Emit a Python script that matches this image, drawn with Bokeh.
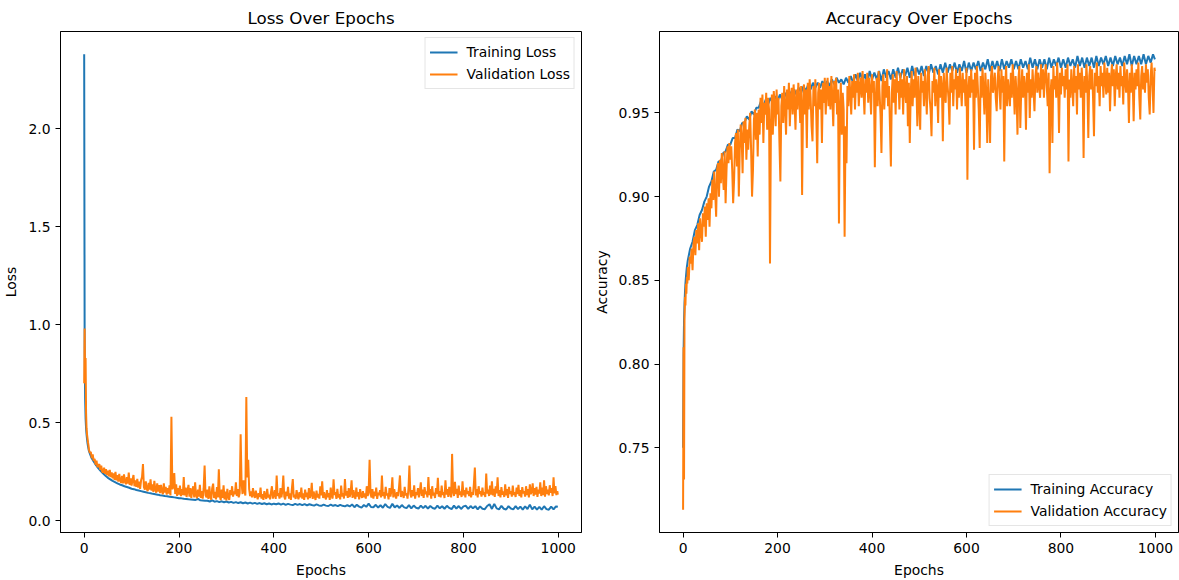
from bokeh.plotting import figure
from bokeh.models import Range1d, FixedTicker, NumeralTickFormatter, Legend, LegendItem
from bokeh.layouts import row
from bokeh.embed import file_html
from bokeh.resources import INLINE

# ---- data ----
# training curves sampled every 5 epochs, validation curves every 2 epochs
train_epochs = list(range(0, 10)) + list(range(10, 1000, 5)) + [999]
val_epochs = list(range(0, 10)) + list(range(10, 1000, 2)) + [999]

train_loss = [
    2.38, 0.88, 0.62, 0.52, 0.47, 0.44, 0.415, 0.395, 0.38, 0.367,
    0.355, 0.322, 0.301, 0.282, 0.266, 0.252, 0.240, 0.229, 0.218, 0.210,
    0.202, 0.196, 0.190, 0.184, 0.180, 0.175, 0.171, 0.167, 0.162, 0.160,
    0.156, 0.153, 0.150, 0.147, 0.144, 0.141, 0.139, 0.136, 0.134, 0.132,
    0.129, 0.128, 0.125, 0.124, 0.121, 0.120, 0.118, 0.116, 0.114, 0.113,
    0.111, 0.110, 0.108, 0.107, 0.106, 0.105, 0.110, 0.103, 0.102, 0.101,
    0.101, 0.097, 0.103, 0.096, 0.099, 0.094, 0.098, 0.093, 0.097, 0.092,
    0.095, 0.090, 0.094, 0.089, 0.093, 0.088, 0.092, 0.087, 0.091, 0.086,
    0.090, 0.085, 0.089, 0.084, 0.088, 0.083, 0.087, 0.082, 0.086, 0.083,
    0.087, 0.081, 0.086, 0.080, 0.085, 0.081, 0.079, 0.085, 0.080, 0.084,
    0.078, 0.084, 0.077, 0.083, 0.079, 0.076, 0.082, 0.077, 0.075, 0.081,
    0.076, 0.074, 0.081, 0.075, 0.079, 0.073, 0.080, 0.075, 0.072, 0.079,
    0.072, 0.082, 0.068, 0.080, 0.071, 0.066, 0.079, 0.070, 0.086, 0.069,
    0.068, 0.080, 0.066, 0.078, 0.065, 0.084, 0.070, 0.064, 0.085, 0.067,
    0.077, 0.064, 0.079, 0.067, 0.063, 0.078, 0.062, 0.076, 0.065, 0.061,
    0.076, 0.063, 0.075, 0.061, 0.074, 0.064, 0.060, 0.076, 0.062, 0.073,
    0.060, 0.075, 0.064, 0.058, 0.076, 0.061, 0.074, 0.059, 0.072, 0.075,
    0.059, 0.074, 0.062, 0.073, 0.057, 0.072, 0.060, 0.058, 0.074, 0.083,
    0.059, 0.085, 0.062, 0.057, 0.075, 0.060, 0.056, 0.073, 0.061, 0.057,
    0.073, 0.058, 0.071, 0.056, 0.072, 0.059, 0.081, 0.057, 0.071, 0.056,
    0.070, 0.055, 0.073, 0.058, 0.055, 0.071, 0.057, 0.072, 0.070,
]

train_acc = [
    0.750, 0.805, 0.826, 0.836, 0.843, 0.848, 0.852, 0.855, 0.858, 0.860,
    0.862, 0.869, 0.873, 0.880, 0.883, 0.889, 0.892, 0.897, 0.900, 0.906,
    0.909, 0.915, 0.916, 0.921, 0.921, 0.926, 0.927, 0.931, 0.931, 0.935,
    0.935, 0.940, 0.939, 0.944, 0.944, 0.948, 0.946, 0.951, 0.949, 0.953,
    0.953, 0.957, 0.954, 0.958, 0.955, 0.959, 0.956, 0.960, 0.957, 0.961,
    0.958, 0.962, 0.959, 0.963, 0.960, 0.964, 0.961, 0.965, 0.962, 0.966,
    0.963, 0.967, 0.964, 0.968, 0.965, 0.968, 0.965, 0.969, 0.966, 0.969,
    0.966, 0.970, 0.967, 0.971, 0.968, 0.970, 0.967, 0.971, 0.968, 0.972,
    0.968, 0.973, 0.969, 0.974, 0.969, 0.973, 0.968, 0.975, 0.970, 0.974,
    0.970, 0.975, 0.969, 0.976, 0.971, 0.975, 0.970, 0.976, 0.971, 0.977,
    0.971, 0.976, 0.972, 0.977, 0.971, 0.978, 0.972, 0.977, 0.973, 0.978,
    0.972, 0.978, 0.973, 0.979, 0.974, 0.978, 0.973, 0.979, 0.974, 0.980,
    0.974, 0.979, 0.975, 0.980, 0.974, 0.979, 0.975, 0.981, 0.974, 0.980,
    0.975, 0.980, 0.976, 0.981, 0.975, 0.980, 0.976, 0.982, 0.975, 0.981,
    0.976, 0.981, 0.975, 0.982, 0.976, 0.981, 0.977, 0.982, 0.976, 0.981,
    0.976, 0.982, 0.977, 0.981, 0.976, 0.983, 0.977, 0.982, 0.976, 0.982,
    0.977, 0.982, 0.976, 0.983, 0.977, 0.982, 0.978, 0.983, 0.977, 0.982,
    0.977, 0.983, 0.978, 0.982, 0.977, 0.984, 0.978, 0.983, 0.977, 0.983,
    0.978, 0.983, 0.977, 0.984, 0.978, 0.983, 0.979, 0.984, 0.978, 0.983,
    0.978, 0.984, 0.979, 0.983, 0.978, 0.984, 0.979, 0.985, 0.978, 0.984,
    0.979, 0.984, 0.979, 0.985, 0.979, 0.984, 0.980, 0.985, 0.982,
]

val_loss = [
    0.70, 0.98, 0.72, 0.83, 0.55, 0.47, 0.44, 0.42, 0.40, 0.385,
    0.362, 0.345, 0.350, 0.318, 0.338, 0.305, 0.315, 0.285, 0.305, 0.272, 0.282, 0.288, 0.258,
    0.280, 0.250, 0.245, 0.270, 0.238, 0.262, 0.232, 0.255, 0.225, 0.258, 0.222, 0.245,
    0.215, 0.240, 0.208, 0.248, 0.205, 0.232, 0.198, 0.238, 0.205, 0.192, 0.228, 0.190, 0.236,
    0.198, 0.185, 0.222, 0.188, 0.245, 0.182, 0.215, 0.178, 0.208, 0.232, 0.175, 0.205,
    0.172, 0.212, 0.168, 0.198, 0.162, 0.205, 0.222, 0.288, 0.170, 0.158, 0.200, 0.162, 0.150,
    0.192, 0.158, 0.210, 0.152, 0.185, 0.146, 0.202, 0.158, 0.142, 0.190, 0.148, 0.180,
    0.140, 0.182, 0.148, 0.135, 0.190, 0.142, 0.172, 0.132, 0.165, 0.138, 0.180, 0.128, 0.530,
    0.160, 0.170, 0.242, 0.135, 0.185, 0.126, 0.165, 0.132, 0.178, 0.124, 0.160, 0.130,
    0.222, 0.128, 0.168, 0.120, 0.155, 0.182, 0.122, 0.165, 0.116, 0.152, 0.175, 0.118, 0.195,
    0.128, 0.114, 0.158, 0.122, 0.182, 0.115, 0.150, 0.112, 0.165, 0.280, 0.128, 0.118,
    0.158, 0.110, 0.175, 0.122, 0.106, 0.165, 0.188, 0.115, 0.146, 0.108, 0.170, 0.118, 0.262,
    0.125, 0.104, 0.158, 0.115, 0.180, 0.108, 0.148, 0.102, 0.162, 0.120, 0.105, 0.155,
    0.130, 0.175, 0.122, 0.148, 0.135, 0.195, 0.125, 0.160, 0.118, 0.140, 0.440, 0.190, 0.135,
    0.205, 0.150, 0.128, 0.630, 0.220, 0.310, 0.160, 0.125, 0.148, 0.118, 0.165, 0.130,
    0.115, 0.152, 0.128, 0.108, 0.140, 0.120, 0.168, 0.112, 0.135, 0.105, 0.150, 0.125, 0.110,
    0.162, 0.118, 0.132, 0.108, 0.145, 0.175, 0.112, 0.128, 0.155, 0.110, 0.230, 0.125,
    0.140, 0.112, 0.165, 0.118, 0.150, 0.230, 0.122, 0.108, 0.148, 0.125, 0.172, 0.112, 0.138,
    0.105, 0.160, 0.212, 0.118, 0.132, 0.110, 0.155, 0.125, 0.108, 0.145, 0.118, 0.168,
    0.112, 0.138, 0.105, 0.158, 0.120, 0.142, 0.108, 0.165, 0.115, 0.130, 0.192, 0.110, 0.148,
    0.125, 0.105, 0.152, 0.118, 0.135, 0.112, 0.175, 0.128, 0.200, 0.115, 0.145, 0.122,
    0.108, 0.155, 0.118, 0.140, 0.105, 0.168, 0.125, 0.112, 0.210, 0.130, 0.145, 0.110, 0.162,
    0.118, 0.135, 0.108, 0.178, 0.122, 0.140, 0.112, 0.212, 0.128, 0.150, 0.115, 0.165,
    0.120, 0.142, 0.205, 0.115, 0.155, 0.128, 0.110, 0.168, 0.122, 0.145, 0.108, 0.160, 0.130,
    0.115, 0.150, 0.118, 0.138, 0.112, 0.175, 0.125, 0.148, 0.310, 0.135, 0.118, 0.160,
    0.112, 0.148, 0.125, 0.168, 0.110, 0.142, 0.130, 0.155, 0.118, 0.230, 0.125, 0.145, 0.112,
    0.172, 0.128, 0.138, 0.108, 0.165, 0.122, 0.150, 0.220, 0.118, 0.160, 0.130, 0.112,
    0.145, 0.125, 0.168, 0.230, 0.120, 0.150, 0.132, 0.115, 0.172, 0.128, 0.140, 0.112, 0.162,
    0.280, 0.135, 0.118, 0.155, 0.125, 0.180, 0.112, 0.145, 0.130, 0.165, 0.118, 0.150,
    0.195, 0.125, 0.158, 0.115, 0.170, 0.135, 0.148, 0.118, 0.222, 0.130, 0.160, 0.112, 0.175,
    0.128, 0.142, 0.115, 0.165, 0.135, 0.218, 0.122, 0.150, 0.118, 0.178, 0.130, 0.145,
    0.115, 0.205, 0.132, 0.160, 0.120, 0.172, 0.138, 0.118, 0.340, 0.145, 0.125, 0.198, 0.135,
    0.162, 0.115, 0.178, 0.130, 0.148, 0.120, 0.200, 0.128, 0.155, 0.118, 0.168, 0.135,
    0.150, 0.125, 0.172, 0.118, 0.145, 0.130, 0.188, 0.270, 0.128, 0.160, 0.118, 0.175, 0.135,
    0.150, 0.122, 0.168, 0.130, 0.145, 0.120, 0.240, 0.138, 0.158, 0.125, 0.178, 0.132,
    0.200, 0.128, 0.162, 0.120, 0.175, 0.138, 0.220, 0.125, 0.155, 0.118, 0.170, 0.132, 0.148,
    0.120, 0.185, 0.128, 0.160, 0.115, 0.172, 0.135, 0.150, 0.122, 0.178, 0.130, 0.145,
    0.120, 0.168, 0.135, 0.182, 0.125, 0.155, 0.118, 0.170, 0.138, 0.150, 0.122, 0.175, 0.130,
    0.160, 0.118, 0.185, 0.135, 0.148, 0.190, 0.125, 0.165, 0.132, 0.172, 0.120, 0.158,
    0.138, 0.195, 0.125, 0.168, 0.130, 0.205, 0.122, 0.175, 0.135, 0.158,
    0.128, 0.180, 0.142, 0.165, 0.125, 0.220, 0.138, 0.175, 0.130, 0.150,
    0.132,
]

val_acc = [
    0.713, 0.810, 0.731, 0.827, 0.840, 0.835, 0.848, 0.842, 0.852, 0.848,
    0.858, 0.850, 0.864, 0.860, 0.869, 0.856, 0.872, 0.876, 0.865, 0.880, 0.872, 0.884, 0.868,
    0.887, 0.879, 0.873, 0.890, 0.882, 0.894, 0.876, 0.896, 0.886, 0.899, 0.882, 0.902,
    0.893, 0.910, 0.898, 0.915, 0.902, 0.888, 0.916, 0.920, 0.900, 0.922, 0.908, 0.926, 0.914,
    0.904, 0.927, 0.896, 0.916, 0.930, 0.920, 0.932, 0.922, 0.930, 0.916, 0.896, 0.910,
    0.932, 0.938, 0.918, 0.940, 0.900, 0.928, 0.943, 0.935, 0.914, 0.945, 0.932, 0.947, 0.922,
    0.940, 0.928, 0.942, 0.950, 0.928, 0.900, 0.916, 0.946, 0.952, 0.934, 0.950, 0.924,
    0.952, 0.937, 0.959, 0.944, 0.961, 0.932, 0.956, 0.949, 0.962, 0.940, 0.959, 0.952, 0.860,
    0.942, 0.961, 0.937, 0.963, 0.954, 0.942, 0.964, 0.949, 0.959, 0.932, 0.909, 0.954,
    0.962, 0.944, 0.966, 0.954, 0.937, 0.964, 0.952, 0.968, 0.942, 0.959, 0.965, 0.949, 0.967,
    0.956, 0.940, 0.964, 0.952, 0.968, 0.959, 0.944, 0.966, 0.901, 0.954, 0.967, 0.949,
    0.964, 0.929, 0.968, 0.952, 0.970, 0.959, 0.942, 0.933, 0.966, 0.954, 0.970, 0.949, 0.920,
    0.962, 0.968, 0.952, 0.964, 0.932, 0.968, 0.956, 0.971, 0.949, 0.964, 0.971, 0.954,
    0.966, 0.952, 0.972, 0.959, 0.942, 0.969, 0.956, 0.971, 0.949, 0.964, 0.884, 0.954, 0.968,
    0.937, 0.962, 0.952, 0.876, 0.942, 0.920, 0.966, 0.954, 0.972, 0.962, 0.949, 0.969,
    0.959, 0.973, 0.952, 0.969, 0.962, 0.974, 0.954, 0.966, 0.971, 0.959, 0.975, 0.964, 0.949,
    0.970, 0.962, 0.974, 0.956, 0.971, 0.964, 0.949, 0.973, 0.962, 0.969, 0.9175, 0.959,
    0.971, 0.954, 0.975, 0.962, 0.949, 0.926, 0.966, 0.973, 0.952, 0.969, 0.959, 0.976, 0.954,
    0.966, 0.942, 0.918, 0.962, 0.973, 0.956, 0.970, 0.949, 0.975, 0.962, 0.969, 0.952,
    0.974, 0.959, 0.970, 0.949, 0.976, 0.964, 0.956, 0.972, 0.942, 0.968, 0.932, 0.962, 0.975,
    0.954, 0.970, 0.959, 0.977, 0.966, 0.942, 0.972, 0.956, 0.940, 0.974, 0.962, 0.969,
    0.954, 0.976, 0.964, 0.949, 0.972, 0.978, 0.959, 0.952, 0.936, 0.969, 0.962, 0.977, 0.954,
    0.970, 0.964, 0.944, 0.976, 0.959, 0.972, 0.966, 0.933, 0.974, 0.962, 0.956, 0.977,
    0.966, 0.959, 0.943, 0.974, 0.962, 0.978, 0.954, 0.970, 0.964, 0.976, 0.952, 0.972, 0.959,
    0.977, 0.966, 0.954, 0.974, 0.962, 0.970, 0.954, 0.977, 0.910, 0.964, 0.972, 0.959,
    0.976, 0.962, 0.970, 0.928, 0.974, 0.959, 0.978, 0.966, 0.952, 0.929, 0.972, 0.959, 0.977,
    0.964, 0.949, 0.974, 0.962, 0.932, 0.970, 0.956, 0.932, 0.972, 0.978, 0.962, 0.966,
    0.974, 0.959, 0.951, 0.970, 0.978, 0.964, 0.952, 0.976, 0.962, 0.972, 0.921, 0.966, 0.978,
    0.954, 0.970, 0.962, 0.954, 0.974, 0.959, 0.979, 0.966, 0.949, 0.972, 0.962, 0.937,
    0.970, 0.978, 0.941, 0.964, 0.976, 0.959, 0.972, 0.966, 0.940, 0.974, 0.962, 0.979, 0.947,
    0.970, 0.959, 0.976, 0.964, 0.951, 0.972, 0.978, 0.962, 0.974, 0.966, 0.959, 0.979,
    0.964, 0.976, 0.959, 0.972, 0.979, 0.966, 0.954, 0.974, 0.914, 0.962, 0.970, 0.932, 0.978,
    0.964, 0.972, 0.959, 0.980, 0.966, 0.938, 0.974, 0.961, 0.977, 0.966, 0.972, 0.959,
    0.976, 0.964, 0.979, 0.921, 0.970, 0.959, 0.976, 0.966, 0.954, 0.978, 0.962, 0.972, 0.949,
    0.979, 0.964, 0.974, 0.959, 0.977, 0.966, 0.923, 0.972, 0.962, 0.979, 0.966, 0.935,
    0.972, 0.978, 0.964, 0.976, 0.959, 0.936, 0.974, 0.966, 0.980, 0.962, 0.972, 0.954, 0.978,
    0.966, 0.974, 0.959, 0.980, 0.970, 0.961, 0.977, 0.962, 0.974, 0.951, 0.970, 0.979,
    0.966, 0.976, 0.954, 0.972, 0.979, 0.964, 0.974, 0.959, 0.978, 0.966, 0.972, 0.955, 0.980,
    0.970, 0.962, 0.976, 0.966, 0.944, 0.974, 0.962, 0.979, 0.968, 0.945, 0.974, 0.964,
    0.976, 0.966, 0.980, 0.959, 0.946, 0.972, 0.978, 0.964, 0.974, 0.962,
    0.979, 0.968, 0.976, 0.959, 0.949, 0.972, 0.980, 0.966, 0.950, 0.977,
    0.975,
]

epoch_ticks = [0, 200, 400, 600, 800, 1000]
loss_ticks = [0.0, 0.5, 1.0, 1.5, 2.0]
acc_ticks = [0.75, 0.80, 0.85, 0.90, 0.95]

assert len(train_epochs) == len(train_loss) == len(train_acc), (len(train_epochs), len(train_loss), len(train_acc))
assert len(val_epochs) == len(val_loss) == len(val_acc), (len(val_epochs), len(val_loss), len(val_acc))

BLUE = "#1f77b4"
ORANGE = "#ff7f0e"
FONT = "DejaVu Sans"


def padded(lo, hi, frac=0.05):
    span = hi - lo
    return lo - span * frac, hi + span * frac


def make_fig(title, ylabel, ys, yticks, yfmt, width, bl, br):
    x0, x1 = padded(min(train_epochs + val_epochs), max(train_epochs + val_epochs))
    y0, y1 = padded(min(min(s) for s in ys), max(max(s) for s in ys))
    p = figure(width=width, height=580, x_range=Range1d(x0, x1), y_range=Range1d(y0, y1),
               output_backend="svg", toolbar_location=None,
               min_border_left=bl, min_border_right=br, min_border_top=31, min_border_bottom=47)
    p.background_fill_color = "white"
    p.border_fill_color = "white"
    p.outline_line_color = "black"
    p.outline_line_width = 1
    p.grid.visible = False
    p.title.text = title
    p.title.align = "center"
    p.title.text_font = FONT
    p.title.text_font_size = "16.7px"
    p.title.text_font_style = "normal"
    p.title.text_color = "black"
    p.title.standoff = 8
    for ax in (p.xaxis[0], p.yaxis[0]):
        ax.major_label_text_font = FONT
        ax.major_label_text_font_size = "13.9px"
        ax.major_label_text_color = "black"
        ax.axis_label_text_font = FONT
        ax.axis_label_text_font_size = "13.9px"
        ax.axis_label_text_font_style = "normal"
        ax.axis_label_text_color = "black"
        ax.minor_tick_line_color = None
        ax.major_tick_in = 0
        ax.major_tick_out = 5
        ax.major_tick_line_color = "black"
        ax.axis_line_color = "black"
        ax.major_label_standoff = 5
        ax.axis_label_standoff = 6
    p.xaxis.ticker = FixedTicker(ticks=epoch_ticks)
    p.xaxis.axis_label = "Epochs"
    p.yaxis.ticker = FixedTicker(ticks=yticks)
    p.yaxis.formatter = NumeralTickFormatter(format=yfmt)
    p.yaxis.axis_label = ylabel
    return p


def style_legend(p, items, location):
    lg = Legend(items=items, location=location)
    lg.label_text_font = FONT
    lg.label_text_font_size = "13.9px"
    lg.label_text_color = "black"
    lg.border_line_color = "#cccccc"
    lg.border_line_width = 1
    lg.background_fill_color = "white"
    lg.background_fill_alpha = 0.8
    lg.glyph_width = 28
    lg.glyph_height = 20
    lg.label_height = 20
    lg.label_standoff = 9
    lg.spacing = 2
    lg.padding = 4
    lg.margin = 6
    p.add_layout(lg)


p1 = make_fig("Loss Over Epochs", "Loss", [train_loss, val_loss], loss_ticks, "0.0", 590, 60, 9)
r1 = p1.line(train_epochs, train_loss, line_color=BLUE, line_width=2)
r2 = p1.line(val_epochs, val_loss, line_color=ORANGE, line_width=2)
style_legend(p1, [LegendItem(label="Training Loss", renderers=[r1]),
                  LegendItem(label="Validation Loss", renderers=[r2])], "top_right")

p2 = make_fig("Accuracy Over Epochs", "Accuracy", [train_acc, val_acc], acc_ticks, "0.00", 589, 66, 1)
r3 = p2.line(train_epochs, train_acc, line_color=BLUE, line_width=2)
r4 = p2.line(val_epochs, val_acc, line_color=ORANGE, line_width=2)
style_legend(p2, [LegendItem(label="Training Accuracy", renderers=[r3]),
                  LegendItem(label="Validation Accuracy", renderers=[r4])], "bottom_right")

layout = row(p1, p2)
open("out.html", "w").write(file_html(layout, INLINE))
